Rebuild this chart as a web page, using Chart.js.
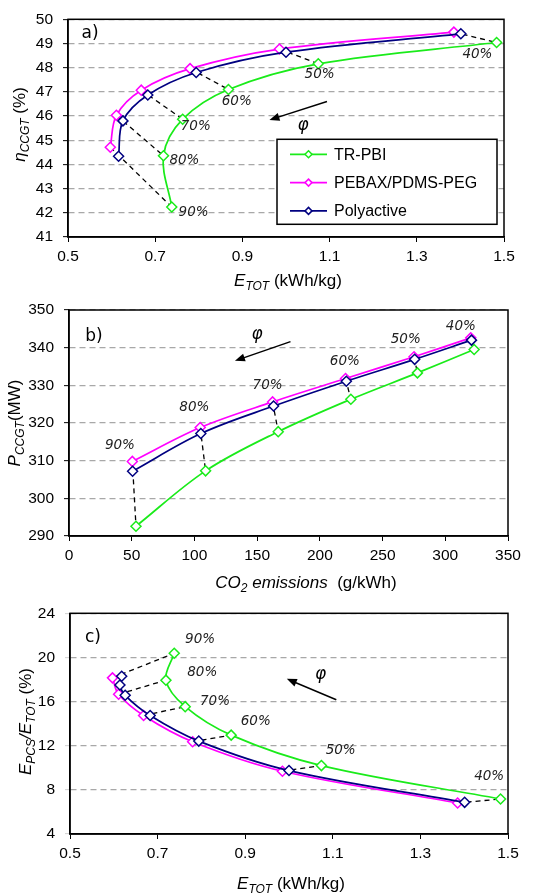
<!DOCTYPE html>
<html><head><meta charset="utf-8">
<script src="https://cdn.jsdelivr.net/npm/chart.js@4.4.0/dist/chart.umd.min.js"></script>
<style>
html,body{margin:0;padding:0;background:#fff;}
canvas{display:block;}
</style></head><body>
<canvas id="ca" width="557" height="290"></canvas>
<canvas id="cb" width="557" height="304"></canvas>
<canvas id="cc" width="557" height="300"></canvas>
<script>
// ---------- DATA ----------
const phiLabels = ['40%','50%','60%','70%','80%','90%'];
const seriesNames = ['TR-PBI','PEBAX/PDMS-PEG','Polyactive'];
// panel a) eta_CCGT vs E_TOT
const eTotTR    = [1.483,1.074,0.868,0.763,0.719,0.738];
const eTotPEBAX = [1.385,0.985,0.780,0.668,0.611,0.597];
const eTotPoly  = [1.401,1.000,0.794,0.683,0.626,0.616];
const etaTR     = [49.04,48.16,47.10,45.87,44.36,42.24];
const etaPEBAX  = [49.47,48.77,47.96,47.07,46.03,44.71];
const etaPoly   = [49.40,48.64,47.80,46.87,45.80,44.34];
// panel b) P_CCGT vs CO2 emissions
const co2TR     = [323.0,277.8,224.7,166.8,108.9,53.4];
const co2PEBAX  = [320.3,275.1,220.5,162.3,104.6,50.5];
const co2Poly   = [320.9,275.6,221.1,163.1,105.1,50.7];
const pTR       = [339.5,333.3,326.3,317.7,307.3,292.6];
const pPEBAX    = [342.6,337.6,331.8,325.6,318.8,309.8];
const pPoly     = [342.0,336.9,331.1,324.5,317.2,307.2];
// panel c) E_PCS/E_TOT vs E_TOT
const eTotPolyC  = [1.401,1.000,0.794,0.683,0.626,0.614,0.618];
const ratioTR    = [7.17,10.20,12.96,15.54,17.94,20.38];
const ratioPEBAX = [6.81,9.69,12.36,14.74,16.66,18.15];
const ratioPolyC = [6.87,9.75,12.42,14.74,16.57,17.50,18.30];
// ticks
const eTicks     = [0.5,0.7,0.9,1.1,1.3,1.5];
const etaTicks   = [41,42,43,44,45,46,47,48,49,50];
const co2Ticks   = [0,50,100,150,200,250,300,350];
const pTicks     = [290,300,310,320,330,340,350];
const ratioTicks = [4,8,12,16,20,24];

// ---------- STYLE ----------
const GREEN = '#1aeb1a', MAGENTA = '#ff00ff', NAVY = '#000080';
const TICKFONT = {family:'"Liberation Sans", Arial, sans-serif', size:15.5};

function pts(xs, ys){ return xs.map((x,i)=>({x:x, y:ys[i]})); }
function line(label,color,xs,ys,order){
  return {label, data:pts(xs,ys), borderColor:color, backgroundColor:'#fff',
    pointStyle:'rectRot', pointRadius:5, pointBorderWidth:1.5, pointBorderColor:color,
    pointBackgroundColor:'#fff', borderWidth:1.7, showLine:true, tension:0.35, order};
}
function dashes(ax,ay,bx,by){
  return phiLabels.map((p,i)=>({label:'', data:[{x:ax[i],y:ay[i]},{x:bx[i],y:by[i]}],
    borderColor:'#000', borderWidth:1.3, borderDash:[5,4], pointRadius:0, showLine:true, tension:0, order:10}));
}
function fontOf(s){ return (s.it?'italic ':'') + (s.sub?12:17) + 'px "Liberation Sans", Arial, sans-serif'; }
function drawRich(ctx, segs, cx, cy, rot){
  ctx.save(); ctx.translate(cx, cy); if (rot) ctx.rotate(-Math.PI/2);
  ctx.fillStyle='#000'; ctx.textBaseline='alphabetic'; ctx.textAlign='left';
  let tot=0; segs.forEach(s=>{ctx.font=fontOf(s); s.w=ctx.measureText(s.t).width; tot+=s.w;});
  let x=-tot/2;
  segs.forEach(s=>{ctx.font=fontOf(s); ctx.fillText(s.t, x, 6 + (s.sub?4:0)); x+=s.w;});
  ctx.restore();
}
function diamond(ctx,x,y,r,color){
  ctx.save(); ctx.beginPath(); ctx.moveTo(x,y-r); ctx.lineTo(x+r,y); ctx.lineTo(x,y+r); ctx.lineTo(x-r,y); ctx.closePath();
  ctx.fillStyle='#fff'; ctx.fill(); ctx.strokeStyle=color; ctx.lineWidth=1.5; ctx.stroke(); ctx.restore();
}

const deco = {
  id:'deco',
  afterDraw(chart, args, o){
    const ctx=chart.ctx, a=chart.chartArea, xs=chart.scales.x, ys=chart.scales.y;
    const px=v=>xs.getPixelForValue(v), py=v=>ys.getPixelForValue(v);
    // frame
    ctx.save(); ctx.strokeStyle='#000'; ctx.lineWidth=1.5;
    ctx.strokeRect(a.left, a.top, a.right-a.left, a.bottom-a.top); ctx.restore();
    // panel letter
    ctx.save(); ctx.fillStyle='#000'; ctx.font='17px "DejaVu Sans", sans-serif';
    ctx.textAlign='center'; ctx.textBaseline='middle';
    ctx.fillText(o.letter, a.left+o.letterOff[0], a.top+o.letterOff[1]); ctx.restore();
    // percent labels
    ctx.save(); ctx.fillStyle='#222'; ctx.font='italic 13.5px "DejaVu Sans", sans-serif';
    ctx.textAlign='center'; ctx.textBaseline='middle';
    o.labels.forEach(l=>ctx.fillText(l.t, px(l.x), py(l.y))); ctx.restore();
    // phi arrow
    const x1=px(o.arrow[0]), y1=py(o.arrow[1]), x2=px(o.arrow[2]), y2=py(o.arrow[3]);
    const ang=Math.atan2(y2-y1,x2-x1);
    ctx.save(); ctx.strokeStyle='#000'; ctx.fillStyle='#000'; ctx.lineWidth=1.5;
    ctx.beginPath(); ctx.moveTo(x1,y1); ctx.lineTo(x2-6*Math.cos(ang), y2-6*Math.sin(ang)); ctx.stroke();
    ctx.beginPath(); ctx.moveTo(x2,y2);
    ctx.lineTo(x2-10*Math.cos(ang)+4*Math.sin(ang), y2-10*Math.sin(ang)-4*Math.cos(ang));
    ctx.lineTo(x2-10*Math.cos(ang)-4*Math.sin(ang), y2-10*Math.sin(ang)+4*Math.cos(ang));
    ctx.closePath(); ctx.fill();
    ctx.font='italic 17px "DejaVu Sans", sans-serif'; ctx.textAlign='center'; ctx.textBaseline='middle';
    ctx.fillText('φ', px(o.phi[0]), py(o.phi[1])); ctx.restore();
    // axis titles
    drawRich(ctx, o.xTitle, o.xTitlePos[0], o.xTitlePos[1], false);
    drawRich(ctx, o.yTitle, o.yTitlePos[0], o.yTitlePos[1], true);
    // legend
    if (o.legend){
      const L=a.left+o.legend[0], T=a.top+o.legend[1], W=o.legend[2], H=o.legend[3];
      ctx.save(); ctx.fillStyle='#fff'; ctx.fillRect(L,T,W,H);
      ctx.strokeStyle='#000'; ctx.lineWidth=1.5; ctx.strokeRect(L,T,W,H);
      const cols=[GREEN,MAGENTA,NAVY];
      seriesNames.forEach((n,i)=>{
        const yy=T+15+i*28.3;
        ctx.strokeStyle=cols[i]; ctx.lineWidth=1.7; ctx.beginPath(); ctx.moveTo(L+13,yy); ctx.lineTo(L+50,yy); ctx.stroke();
        diamond(ctx, L+31.5, yy, 3.5, cols[i]);
        ctx.fillStyle='#000'; ctx.font='16px "Liberation Sans", Arial, sans-serif';
        ctx.textAlign='left'; ctx.textBaseline='middle'; ctx.fillText(n, L+57, yy+1);
      });
      ctx.restore();
    }
  }
};

function makeChart(id, datasets, xr, yr, xT, yT, pad, yW, xH, decoOpts, yTickColor){
  return new Chart(document.getElementById(id), {
    type:'scatter',
    data:{datasets},
    plugins:[deco],
    options:{
      responsive:false, animation:false, events:[], devicePixelRatio:1,
      layout:{padding:pad},
      plugins:{legend:{display:false}, tooltip:{enabled:false}, deco:decoOpts},
      scales:{
        x:{type:'linear', min:xr[0], max:xr[1],
          afterBuildTicks:s=>{s.ticks=xT.map(v=>({value:v}));},
          afterFit:s=>{s.height=xH;},
          ticks:{font:TICKFONT, color:'#000', padding:5, maxRotation:0, callback:v=>String(v)},
          grid:{drawOnChartArea:false, drawTicks:true, tickLength:5, tickColor:'#000', tickWidth:1},
          border:{display:true, color:'#000', width:1.5}},
        y:{type:'linear', min:yr[0], max:yr[1],
          afterBuildTicks:s=>{s.ticks=yT.map(v=>({value:v}));},
          afterFit:s=>{s.width=yW;},
          ticks:{font:TICKFONT, color:'#000', padding:10, callback:v=>String(v)},
          grid:{color:'#a8a8a8', lineWidth:1.3, drawTicks:true, tickLength:5, tickColor:yTickColor, tickWidth:1},
          border:{display:true, color:'#000', width:1.5, dash:[6,4]}}
      }
    }
  });
}

// Panel a
makeChart('ca',
  [line(seriesNames[2],NAVY,eTotPoly,etaPoly,1), line(seriesNames[1],MAGENTA,eTotPEBAX,etaPEBAX,2),
   line(seriesNames[0],GREEN,eTotTR,etaTR,3), ...dashes(eTotPEBAX,etaPEBAX,eTotTR,etaTR)],
  [0.5,1.5],[41,50], eTicks, etaTicks, {top:12,right:53,left:0,bottom:0}, 68, 53,
  {letter:'a)', letterOff:[22,14],
   labels:[{t:'40%',x:1.439,y:48.54},{t:'50%',x:1.077,y:47.71},{t:'60%',x:0.887,y:46.60},
           {t:'70%',x:0.793,y:45.58},{t:'80%',x:0.767,y:44.16},{t:'90%',x:0.788,y:42.03}],
   arrow:[1.094,46.6,0.962,45.84], phi:[1.039,45.6],
   xTitle:[{t:'E',it:1},{t:'TOT',it:1,sub:1},{t:' (kWh/kg)'}], xTitlePos:[288,280],
   yTitle:[{t:'η',it:1},{t:'CCGT',it:1,sub:1},{t:' (%)'}], yTitlePos:[19,124.5],
   legend:[209,120,220,85]}, '#000');

// Panel b
makeChart('cb',
  [line(seriesNames[2],NAVY,co2Poly,pPoly,1), line(seriesNames[1],MAGENTA,co2PEBAX,pPEBAX,2),
   line(seriesNames[0],GREEN,co2TR,pTR,3), ...dashes(co2PEBAX,pPEBAX,co2TR,pTR)],
  [0,350],[290,350], co2Ticks, pTicks, {top:20,right:49,left:0,bottom:0}, 69, 58,
  {letter:'b)', letterOff:[25,27],
   labels:[{t:'40%',x:312.4,y:345.7},{t:'50%',x:268.5,y:342.2},{t:'60%',x:219.9,y:336.4},
           {t:'70%',x:158.3,y:329.9},{t:'80%',x:99.9,y:324.1},{t:'90%',x:40.6,y:313.9}],
   arrow:[176.6,341.6,132.3,336.5], phi:[150,343.4],
   xTitle:[{t:'CO',it:1},{t:'2',it:1,sub:1},{t:' emissions',it:1},{t:'  (g/kWh)'}], xTitlePos:[306,292],
   yTitle:[{t:'P',it:1},{t:'CCGT',it:1,sub:1},{t:'(MW)'}], yTitlePos:[14,133],
   legend:null}, '#000');

// Panel c
makeChart('cc',
  [line(seriesNames[2],NAVY,eTotPolyC,ratioPolyC,1), line(seriesNames[1],MAGENTA,eTotPEBAX,ratioPEBAX,2),
   line(seriesNames[0],GREEN,eTotTR,ratioTR,3), ...dashes(eTotPEBAX,ratioPEBAX,eTotTR,ratioTR)],
  [0.5,1.5],[4,24], eTicks, ratioTicks, {top:15,right:49,left:0,bottom:0}, 70, 60,
  {letter:'c)', letterOff:[23,24],
   labels:[{t:'90%',x:0.797,y:21.65},{t:'80%',x:0.802,y:18.6},{t:'70%',x:0.831,y:16.01},
           {t:'60%',x:0.924,y:14.2},{t:'50%',x:1.118,y:11.53},{t:'40%',x:1.457,y:9.25}],
   arrow:[1.108,16.16,0.995,18.06], phi:[1.072,18.44],
   xTitle:[{t:'E',it:1},{t:'TOT',it:1,sub:1},{t:' (kWh/kg)'}], xTitlePos:[291,288.5],
   yTitle:[{t:'E',it:1},{t:'PCS',it:1,sub:1},{t:'/',it:1},{t:'E',it:1},{t:'TOT',it:1,sub:1},{t:' (%)'}], yTitlePos:[25,127.5],
   legend:null}, '#d0d0d0');
</script>
</body></html>
